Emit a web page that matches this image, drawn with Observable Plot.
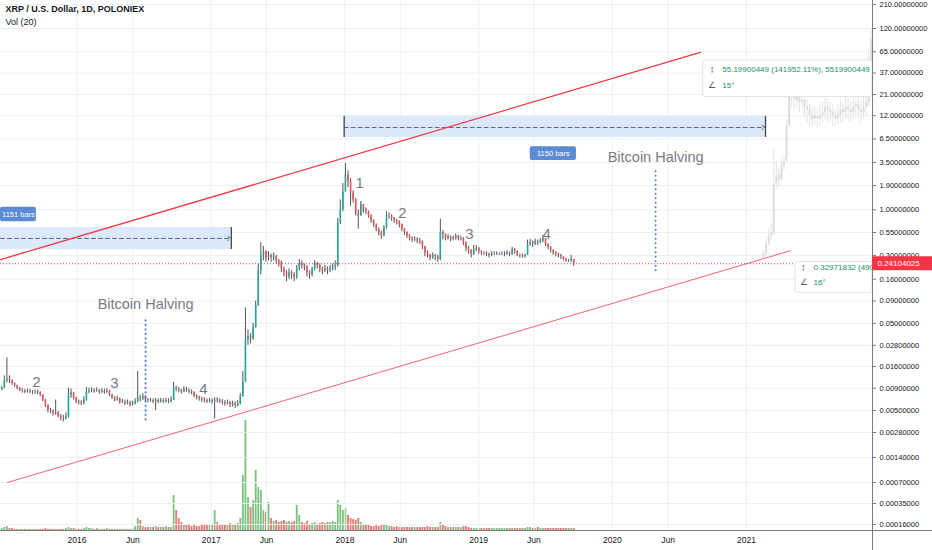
<!DOCTYPE html>
<html><head><meta charset="utf-8">
<script src="https://cdn.jsdelivr.net/npm/d3@7"></script>
<script src="https://cdn.jsdelivr.net/npm/@observablehq/plot@0.6"></script>
<style>
html,body{margin:0;padding:0;background:#fff;}
#wrap{position:relative;width:932px;height:550px;overflow:hidden;background:#fff;}
#wrap > svg{position:absolute;left:0;top:0;}
#wrap svg g[aria-label^="x-axis"] text{font-size:8.5px;fill:#131722;}
</style></head><body><div id="wrap"></div>
<script>
// ---------- DATA ----------
const firstWeek = "2015-06-06";           // weekly candles start here
const closes = [
0.0091,0.011,0.0115,0.011,0.0102,0.0096,0.009,0.0085,0.0083,0.0081,
0.0083,0.0081,0.008,0.0081,0.008,0.0075,0.0066,0.0057,0.005,0.0049,
0.0046,0.0047,0.0043,0.0041,0.004,0.0042,0.0075,0.008,0.007,0.0063,
0.0062,0.006,0.0066,0.0081,0.0083,0.0085,0.0083,0.0085,0.0081,0.0083,
0.0081,0.0083,0.0075,0.007,0.0066,0.0068,0.0062,0.0063,0.006,0.0062,
0.0058,0.006,0.0063,0.007,0.0068,0.0072,0.0066,0.0065,0.0065,0.0063,
0.0065,0.0063,0.0065,0.0063,0.0065,0.0063,0.0066,0.009,0.0087,0.0085,
0.0081,0.0087,0.0085,0.0083,0.008,0.0073,0.007,0.0068,0.0066,0.0065,
0.0063,0.0065,0.0063,0.0066,0.0065,0.0063,0.0062,0.006,0.0062,0.0058,
0.006,0.0057,0.006,0.0073,0.0105,0.032,0.035,0.033,0.045,0.08,
0.2,0.3,0.33,0.28,0.3,0.28,0.29,0.26,0.25,0.21,
0.19,0.17,0.19,0.18,0.17,0.21,0.24,0.23,0.22,0.19,
0.18,0.21,0.24,0.23,0.21,0.2,0.21,0.2,0.21,0.22,
0.23,0.7,1.0,1.6,2.5,2.1,1.55,1.3,0.9,0.85,
1.15,1.0,0.95,0.85,0.75,0.67,0.6,0.55,0.5,0.62,
0.85,0.85,0.8,0.75,0.72,0.68,0.6,0.55,0.5,0.47,
0.45,0.46,0.44,0.43,0.38,0.32,0.3,0.28,0.3,0.29,
0.27,0.55,0.52,0.47,0.49,0.46,0.47,0.5,0.46,0.47,
0.42,0.36,0.34,0.31,0.35,0.36,0.33,0.32,0.32,0.31,
0.3,0.31,0.31,0.31,0.31,0.31,0.31,0.32,0.31,0.35,
0.33,0.3,0.3,0.29,0.3,0.4,0.42,0.4,0.43,0.42,
0.44,0.47,0.4,0.37,0.34,0.32,0.31,0.3,0.29,0.27,
0.26,0.26,0.27,0.241];
const highs = [
0.0095,0.0125,0.02,0.0125,0.0112,0.0104,0.0098,0.0092,0.0089,0.0087,
0.0088,0.0087,0.0085,0.0086,0.0086,0.0082,0.0076,0.0067,0.0058,0.0053,
0.0051,0.0066,0.0049,0.0045,0.0044,0.0047,0.009,0.0088,0.0081,0.0071,
0.0066,0.0065,0.0072,0.0092,0.009,0.0091,0.0089,0.0091,0.0087,0.0089,
0.0088,0.0089,0.0085,0.0077,0.0072,0.0073,0.007,0.0067,0.0066,0.0066,
0.0064,0.0064,0.0068,0.014,0.0075,0.0078,0.0074,0.0069,0.0069,0.0068,
0.0069,0.0068,0.0069,0.0068,0.0069,0.0068,0.0072,0.0105,0.0095,0.0092,
0.0088,0.0094,0.0092,0.0089,0.0086,0.0082,0.0076,0.0073,0.0071,0.007,
0.0068,0.0069,0.0068,0.007,0.007,0.0068,0.0067,0.0065,0.0066,0.0064,
0.0064,0.0063,0.0065,0.0078,0.014,0.075,0.042,0.038,0.05,0.09,
0.24,0.42,0.38,0.34,0.33,0.31,0.32,0.3,0.27,0.26,
0.22,0.2,0.21,0.2,0.19,0.23,0.27,0.26,0.24,0.23,
0.2,0.22,0.26,0.25,0.24,0.22,0.23,0.22,0.23,0.24,
0.26,0.8,1.3,2.0,3.4,2.8,2.3,1.65,1.35,1.0,
1.25,1.15,1.05,0.97,0.88,0.77,0.69,0.62,0.57,0.66,
0.95,0.92,0.88,0.82,0.78,0.75,0.69,0.61,0.56,0.52,
0.49,0.49,0.48,0.47,0.44,0.38,0.34,0.31,0.32,0.31,
0.3,0.78,0.58,0.53,0.52,0.5,0.5,0.53,0.51,0.5,
0.48,0.43,0.38,0.35,0.39,0.39,0.37,0.34,0.33,0.33,
0.32,0.33,0.33,0.33,0.32,0.33,0.33,0.34,0.33,0.37,
0.36,0.34,0.31,0.31,0.31,0.45,0.46,0.44,0.46,0.45,
0.47,0.51,0.47,0.41,0.38,0.35,0.33,0.32,0.31,0.29,
0.28,0.27,0.3,0.27];
const lows = [
0.0085,0.0089,0.0104,0.0102,0.0097,0.0092,0.0086,0.0082,0.0079,0.0078,
0.0079,0.0078,0.0076,0.0077,0.0076,0.0072,0.0063,0.0054,0.0047,0.0046,
0.0043,0.0044,0.0041,0.0038,0.0037,0.0039,0.0041,0.0069,0.0066,0.006,
0.0058,0.0057,0.0058,0.0064,0.0078,0.008,0.0079,0.0081,0.0077,0.0079,
0.0077,0.0078,0.0072,0.0067,0.0063,0.0064,0.0059,0.006,0.0057,0.0058,
0.0055,0.0056,0.0058,0.0061,0.0063,0.0065,0.0063,0.0061,0.0062,0.006,
0.005,0.006,0.0061,0.006,0.0061,0.006,0.0061,0.0065,0.0082,0.008,
0.0077,0.008,0.0081,0.0078,0.0076,0.007,0.0066,0.0064,0.0062,0.0061,
0.006,0.0061,0.0059,0.004,0.0061,0.006,0.0058,0.0056,0.0058,0.0054,
0.0055,0.0053,0.0055,0.0058,0.0071,0.0105,0.028,0.029,0.032,0.044,
0.078,0.18,0.26,0.25,0.26,0.25,0.26,0.24,0.22,0.19,
0.17,0.15,0.16,0.16,0.15,0.16,0.2,0.21,0.2,0.17,
0.16,0.17,0.2,0.21,0.19,0.18,0.19,0.18,0.19,0.2,
0.2,0.22,0.68,0.95,1.6,1.8,1.1,1.2,0.85,0.6,
0.85,0.92,0.88,0.8,0.7,0.63,0.56,0.5,0.46,0.49,
0.6,0.78,0.74,0.7,0.67,0.62,0.56,0.51,0.47,0.44,
0.42,0.43,0.41,0.4,0.35,0.29,0.28,0.26,0.27,0.26,
0.25,0.26,0.45,0.44,0.45,0.43,0.44,0.45,0.44,0.44,
0.39,0.33,0.31,0.28,0.3,0.33,0.31,0.3,0.3,0.29,
0.28,0.29,0.3,0.3,0.3,0.3,0.29,0.3,0.29,0.3,
0.31,0.29,0.28,0.28,0.28,0.3,0.38,0.37,0.39,0.39,
0.41,0.42,0.38,0.35,0.32,0.3,0.29,0.28,0.27,0.26,
0.25,0.25,0.25,0.225];
const volumes = [
2,3,4,2,2,1,1,1,1,1,
1,1,1,1,1,1,1,2,1,1,
1,1,1,1,1,2,3,2,2,1,
1,1,2,3,2,2,1,2,1,1,
1,2,1,1,1,1,1,1,1,1,
1,2,4,12,10,4,3,3,3,3,
4,3,3,3,4,3,3,35,20,12,
8,6,5,5,4,5,4,4,5,5,
5,6,5,20,8,6,5,5,6,7,
5,6,7,12,55,110,33,23,30,60,
43,40,20,18,28,12,9,10,8,9,
10,8,9,8,9,25,15,8,7,9,
6,7,8,6,7,8,7,8,8,9,
8,30,25,20,22,15,12,11,10,12,
8,6,5,5,4,4,5,4,6,5,
5,4,4,3,4,3,3,3,3,3,
3,3,3,3,3,3,4,3,3,3,
3,8,5,4,3,3,3,3,3,3,
4,4,3,2,2,2,2,2,2,2,
2,2,2,2,2,2,2,2,2,2,
2,2,2,2,2,3,3,2,2,3,
2,2,2,2,2,2,2,2,2,2,
2,2,2,2];
// projected ("bars pattern") copy drawn in light gray
const ghostStart = "2021-02-13";
const ghostCloses = [0.31,0.4,0.5,0.55,2.0,2.5,2.2,3.2,3.6,9,22,20,18,20,17,18,15,14,12,11,12,11,12,13,15,14,13,12,11,12,14,13,15,14,13,15,16,14,13,15,17,40,90];
const ghostHighs  = [0.34,0.45,0.6,0.7,5.0,3.5,3.0,3.9,4.2,11,30,28,24,25,22,22,19,18,16,15,15,14,16,17,20,19,17,16,14,16,18,17,20,19,17,21,21,19,18,20,22,70,120];
const ghostLows   = [0.28,0.3,0.38,0.45,0.5,1.7,1.8,2.2,2.8,3.5,9,15,14,15,13,14,11,10,9,9,9.5,8.5,9,10,11,10,10,9,9,9.5,10,10,11,10,10,11,12,11,10,11,12,15,35];

const lastPrice = 0.24104025;
const yTicks = [0.00016,0.00035,0.0007,0.0014,0.0028,0.005,0.009,0.016,0.028,0.05,0.09,0.16,0.3,0.55,1,1.9,3.5,6.5,12,21,37,65,120,210];
const xTickDates = ["2016-01-01","2016-06-01","2017-01-01","2017-06-01","2018-01-01","2018-06-01","2019-01-01","2019-06-01","2020-01-01","2020-06-01","2021-01-01"];
const xTickLabels = ["2016","Jun","2017","Jun","2018","Jun","2019","Jun","2020","Jun","2021"];

const upperChannel = [{date:"2015-06-06", price:0.269},{date:"2020-08-28", price:63.7}];
const lowerChannel = [{date:"2015-06-25", price:0.0007},{date:"2021-05-01", price:0.34}];
const rangeBoxes = [
  {start:"2015-06-06", end:"2017-02-25", low:0.35, high:0.627, mid:0.47},
  {start:"2017-12-30", end:"2021-02-22", low:6.76, high:11.8, mid:8.8}];
const rangeEnds = [
  {date:"2017-02-25", low:0.35, high:0.627},
  {date:"2017-12-30", low:6.76, high:11.8},
  {date:"2021-02-22", low:6.76, high:11.8}];
const rangeLabels = [
  {start:"2015-06-06", end:"2015-09-12", low:0.73, high:1.07, text:"1151 bars"},
  {start:"2019-05-22", end:"2019-09-25", low:3.68, high:5.3, text:"1150 bars"}];
const halvings = [
  {date:"2016-07-06", textPrice:0.082, lineHigh:0.057, lineLow:0.0039},
  {date:"2020-04-28", textPrice:3.98, lineHigh:2.97, lineLow:0.2}];
const waveLabels = [
  {date:"2015-09-12", price:0.0107, text:"2"},
  {date:"2016-04-12", price:0.0102, text:"3"},
  {date:"2016-12-11", price:0.0089, text:"4"},
  {date:"2018-02-10", price:2.0, text:"1"},
  {date:"2018-06-07", price:0.91, text:"2"},
  {date:"2018-12-07", price:0.53, text:"3"},
  {date:"2019-07-06", price:0.52, text:"4"}];
const measureBoxes = [
  {start:"2020-09-05", low:19.7, high:51.6},
  {start:"2021-05-15", low:0.112, high:0.252}];
const measureTexts = [
  {date:"2020-10-27", price:40.6, icon:"↨", text:"55.19900449 (141952.11%), 5519900449"},
  {date:"2020-10-27", price:26.6, icon:"∠", text:"15°"},
  {date:"2021-07-03", price:0.22, icon:"↨", text:"0.32971832 (490"},
  {date:"2021-07-03", price:0.147, icon:"∠", text:"16°"}];

// ---------- BUILD ----------
const parse = d3.utcParse("%Y-%m-%d");
const xStart = parse("2015-06-06"), xEnd = parse("2021-12-11");
const n = Math.min(closes.length, highs.length, lows.length, volumes.length);
const candles = d3.range(n).map(i => ({
  date: d3.utcHour.offset(d3.utcDay.offset(parse(firstWeek), 7 * i), 84),
  open: i ? closes[i - 1] : lows[0], close: closes[i], high: highs[i], low: lows[i], vol: volumes[i]
}));
const gn = Math.min(ghostCloses.length, ghostHighs.length, ghostLows.length);
const ghost = d3.range(gn).map(i => ({
  date: d3.utcHour.offset(d3.utcDay.offset(parse(ghostStart), 7 * i), 84),
  open: i ? ghostCloses[i - 1] : ghostLows[0], close: ghostCloses[i], high: ghostHighs[i], low: ghostLows[i]
}));
const pd = arr => arr.map(o => { const r = {...o}; for (const k of ["date","start","end"]) if (r[k]) r[k] = parse(r[k]); return r; });
const labelByTime = new Map(xTickDates.map((s, i) => [+parse(s), xTickLabels[i]]));
const upColor = "#26a69a", downColor = "#ef5350";
const axisColor = "#787b86";

const xScale = {type: "utc", domain: [xStart, xEnd], range: [0, 872]};
const common = {width: 932, height: 550, marginTop: 0, marginRight: 60, marginBottom: 20, marginLeft: 0};
const font = '"Liberation Sans", Arial, sans-serif';

const volPlot = Plot.plot({
  ...common,
  style: {background: "transparent"},
  x: {...xScale, axis: null},
  y: {domain: [0, 115], range: [530, 415], axis: null},
  marks: [
    Plot.ruleX(candles, {x: "date", y1: 0, y2: "vol", stroke: d => d.close >= d.open ? "#4caf50" : "#e8473f", strokeWidth: 1.8, strokeOpacity: 0.75})
  ]
});

const main = Plot.plot({
  ...common,
  style: {background: "transparent", fontFamily: font, fontSize: "8.5px", color: "#131722"},
  x: {...xScale, ticks: xTickDates.map(parse), tickFormat: d => labelByTime.get(+d) ?? "", tickSize: 0, tickPadding: 6, label: null},
  y: {type: "log", domain: [0.00016, 0.00035, 0.0007, 0.0028, 120, 210], range: [524, 503, 482, 432, 28, 4], axis: null},
  marks: [
    Plot.ruleY(yTicks, {stroke: "#eceff4"}),
    Plot.ruleX(xTickDates.map(parse), {stroke: "#eceff4"}),
    // date-range tools
    Plot.rect(pd(rangeBoxes), {x1: "start", x2: "end", y1: "low", y2: "high", fill: "#dce9fb"}),
    Plot.arrow(pd(rangeBoxes), {x1: "start", x2: "end", y1: "mid", y2: "mid", stroke: "#5d6679", strokeWidth: 1, strokeDasharray: "4,3", headLength: 6}),
    Plot.ruleX(pd(rangeEnds), {x: "date", y1: "low", y2: "high", stroke: "#434651", strokeWidth: 1.3}),
    Plot.rect(pd(rangeLabels), {x1: "start", x2: "end", y1: "low", y2: "high", fill: "#5b8bd4", rx: 2}),
    Plot.text(pd(rangeLabels), {x: d => new Date((+d.start + +d.end) / 2), y: d => Math.sqrt(d.low * d.high), text: "text", fill: "white", fontSize: 7.5}),
    // projected pattern
    Plot.ruleX(ghost, {x: "date", y1: "low", y2: "high", stroke: "#e4e4e4"}),
    Plot.ruleX(ghost, {x: "date", y1: "open", y2: "close", stroke: "#dcdcdc", strokeWidth: 2}),
    // candles
    Plot.ruleX(candles, {x: "date", y1: "low", y2: "high", stroke: "#50535e", strokeWidth: 1}),
    Plot.ruleX(candles, {x: "date", y1: "open", y2: "close", stroke: d => d.close >= d.open ? upColor : downColor, strokeWidth: 1.6}),
    // channel
    Plot.line(pd(upperChannel), {x: "date", y: "price", stroke: "#f23645", strokeWidth: 1.3}),
    Plot.line(pd(lowerChannel), {x: "date", y: "price", stroke: "#f7646e", strokeWidth: 1}),
    Plot.ruleY([lastPrice], {stroke: "#f23645", strokeDasharray: "1,2"}),
    // halvings
    Plot.ruleX(pd(halvings), {x: "date", y1: "lineLow", y2: "lineHigh", stroke: "#4a7fd4", strokeWidth: 2, strokeDasharray: "0.1,4.4", strokeLinecap: "round"}),
    Plot.text(pd(halvings), {x: "date", y: "textPrice", text: () => "Bitcoin Halving", fontSize: 14.5, fill: "#787b86"}),
    Plot.text(pd(waveLabels), {x: "date", y: "price", text: "text", fontSize: 15, fill: "#787b86"}),
    // measurement labels
    Plot.rect(pd(measureBoxes), {x1: "start", x2: () => xEnd, y1: "low", y2: "high", fill: "white", stroke: "#e0e3eb", rx: 2}),
    Plot.text(pd(measureTexts), {x: "date", y: "price", text: "icon", dx: -10, fill: "#555866", fontSize: 9}),
    Plot.text(pd(measureTexts), {x: "date", y: "price", text: "text", textAnchor: "start", fill: "#1e8f62", fontSize: 8, clip: true}),
    // right price axis (drawn through the y scale)
    Plot.ruleX([xEnd], {stroke: axisColor, insetBottom: -20}),
    Plot.ruleY([yTicks[0]], {y: () => yTicks[0], stroke: axisColor, dy: 6, insetRight: -60}),
    Plot.ruleY(yTicks, {x1: () => xEnd, x2: () => xEnd, insetRight: -4, stroke: axisColor}),
    Plot.text(yTicks, {x: () => xEnd, y: d => d, text: d => d.toFixed(8), dx: 7, textAnchor: "start", fontSize: 7.5, fill: "#131722"}),
    // last-price label on the axis
    Plot.rect([lastPrice], {x1: () => xEnd, x2: () => xEnd, y1: d => d, y2: d => d, insetRight: -60, insetTop: -7, insetBottom: -7, fill: "#f23645"}),
    Plot.text([lastPrice], {x: () => xEnd, y: d => d, text: d => d.toFixed(8), dx: 5, textAnchor: "start", fill: "white", fontSize: 8}),
    // header
    Plot.text(["XRP / U.S. Dollar, 1D, POLONIEX"], {text: d => d, frameAnchor: "top-left", dx: 5, dy: 5, lineAnchor: "top", textAnchor: "start", fontWeight: 600, fontSize: 9, fill: "#131722"}),
    Plot.text(["Vol (20)"], {text: d => d, frameAnchor: "top-left", dx: 5, dy: 18, lineAnchor: "top", textAnchor: "start", fontSize: 9, fill: "#131722"})
  ]
});

document.getElementById("wrap").append(volPlot, main);
</script></body></html>
